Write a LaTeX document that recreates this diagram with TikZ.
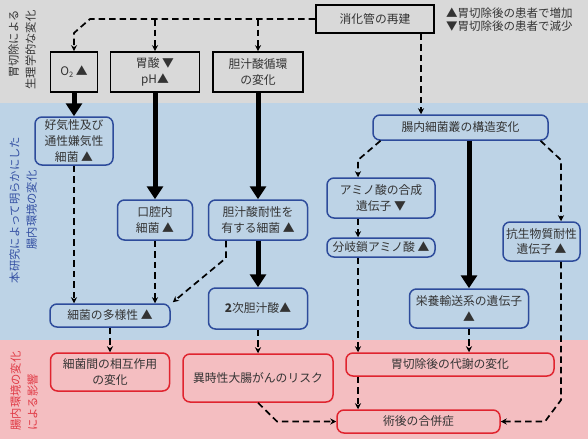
\documentclass[tikz,border=0pt]{standalone}
\usepackage{fontspec}
\setmainfont{Noto Sans CJK JP}
\usetikzlibrary{arrows.meta}
\definecolor{graybg}{HTML}{D9D9D9}
\definecolor{bluebg}{HTML}{BDD3E6}
\definecolor{pinkbg}{HTML}{F4BEC1}
\definecolor{blueline}{HTML}{2D4B9B}
\definecolor{redline}{HTML}{E0242F}
\definecolor{txt}{HTML}{333333}
\definecolor{bluetxt}{HTML}{3450A3}
\definecolor{redtxt}{HTML}{E03A45}
\tikzset{
  every node/.style={font=\fontsize{11.8}{15.8}\selectfont, text=txt, align=center, inner sep=0pt},
  graybox/.style={draw=black, line width=1.6pt, fill=graybg},
  bluebox/.style={draw=blueline, line width=1.5pt, rounded corners=7pt, fill=bluebg},
  redbox/.style={draw=redline, line width=1.5pt, rounded corners=7pt, fill=pinkbg},
  dashconn/.style={line width=1.7pt, dash pattern=on 6.5pt off 4pt, -{Stealth[length=6pt,width=6pt]}},
  heavy/.style={line width=5pt, -{Triangle[length=13pt,width=16pt]}},
  sidelabel/.style={rotate=90, font=\fontsize{11.3}{17}\selectfont},
}
\begin{document}
\begin{tikzpicture}[x=1pt,y=-1pt]
\useasboundingbox (0,0) rectangle (588,439);
% bands
\fill[graybg] (0,0) rectangle (588,103);
\fill[bluebg] (0,103) rectangle (588,340);
\fill[pinkbg] (0,340) rectangle (588,439);
% side labels
\node[sidelabel, align=right, text=txt] (lab1) at (22,50) {胃切除による\\生理学的な変化};
\node[sidelabel, align=center, text=bluetxt] (lab2) at (23,210) {本研究によって明らかにした\\腸内環境の変化};
\node[sidelabel, align=left, text=redtxt] (lab3) at (24,391) {腸内環境の変化\\による影響};
% legend
\node[anchor=west, font=\fontsize{11.5}{14}\selectfont] (leg1) at (446,12.7) {▲胃切除後の患者で増加};
\node[anchor=west, font=\fontsize{11.5}{14}\selectfont] (leg2) at (446,26.5) {▼胃切除後の患者で減少};
% gray nodes
\node[graybox, minimum width=118pt, minimum height=28pt] (rebuild) at (375,19) {消化管の再建};
\node[graybox, minimum width=47pt, minimum height=40pt] (o2) at (74,72) {O{\raisebox{-0.35ex}{\fontsize{7.5}{8}\selectfont 2}} ▲};
\node[graybox, minimum width=89pt, minimum height=40pt] (stomach) at (155,72) {胃酸 ▼\\pH▲};
\node[graybox, minimum width=90pt, minimum height=40pt] (bile) at (258,72) {胆汁酸循環\\の変化};
% blue nodes
\node[bluebox, minimum width=78pt, minimum height=48pt] (aerobic) at (74,141) {好気性及び\\通性嫌気性\\細菌 ▲};
\node[bluebox, minimum width=75pt, minimum height=40pt] (oral) at (155,220) {口腔内\\細菌 ▲};
\node[bluebox, minimum width=99pt, minimum height=40pt] (bileres) at (258,220) {胆汁酸耐性を\\有する細菌 ▲};
\node[bluebox, minimum width=120pt, minimum height=23pt] (diversity) at (110,315.5) {細菌の多様性 ▲};
\node[bluebox, minimum width=99pt, minimum height=41pt] (secbile) at (258,308.5) {\textbf{2}次胆汁酸▲};
\node[bluebox, minimum width=175pt, minimum height=25pt] (micro) at (460.5,127.5) {腸内細菌叢の構造変化};
\node[bluebox, minimum width=108pt, minimum height=40pt] (amino) at (381,198) {アミノ酸の合成\\遺伝子 ▼};
\node[bluebox, minimum width=108pt, minimum height=19pt] (bcaa) at (381,247.5) {分岐鎖アミノ酸 ▲};
\node[bluebox, minimum width=77pt, minimum height=39pt] (abx) at (541.5,241.5) {抗生物質耐性\\遺伝子 ▲};
\node[bluebox, minimum width=119pt, minimum height=39pt] (transport) at (469,308.5) {栄養輸送系の遺伝子\\▲};
% red nodes
\node[redbox, minimum width=119pt, minimum height=38pt] (interact) at (110,372) {細菌間の相互作用\\の変化};
\node[redbox, minimum width=150pt, minimum height=48pt] (risk) at (258,378) {異時性大腸がんのリスク};
\node[redbox, minimum width=208pt, minimum height=23pt] (metab) at (450,364.5) {胃切除後の代謝の変化};
\node[redbox, minimum width=163pt, minimum height=23pt] (compl) at (418.5,421.5) {術後の合併症};
% waypoints
\coordinate (t1) at (90,19);
\coordinate (t2) at (74,33);
\coordinate (b1) at (226,258);
\coordinate (m1) at (358,160);
\coordinate (m2) at (561,160);
\coordinate (a1) at (561,400);
\coordinate (a2) at (545,421.5);
\coordinate (r1) at (277,421.5);
% top dashed
\draw[dashconn] (rebuild.west) -- (t1) -- (t2) -- (o2.north);
\draw[dashconn] (stomach.north |- rebuild.west) -- (stomach.north);
\draw[dashconn] (bile.north |- rebuild.west) -- (bile.north);
\draw[dashconn] ([xshift=46pt]rebuild.south) -- ([xshift=46pt]rebuild.south |- micro.north);
% heavy arrows
\draw[heavy] (o2.south) -- (aerobic.north);
\draw[heavy] (stomach.south) -- (oral.north);
\draw[heavy] (bile.south) -- (bileres.north);
\draw[heavy] (bileres.south) -- (secbile.north);
\draw[heavy] (micro.south -| transport.north) -- (transport.north);
% blue dashed
\draw[dashconn] (aerobic.south) -- (diversity.north -| aerobic.south);
\draw[dashconn] (oral.south) -- (diversity.north -| oral.south);
\draw[dashconn] (bileres.south -| b1) -- (b1) -- ([xshift=2pt,yshift=1pt]diversity.north east);
\draw[dashconn] ([xshift=-80pt]micro.south) -- (m1) -- (amino.north -| m1);
\draw[dashconn] ([xshift=80pt]micro.south) -- (m2) -- (abx.north -| m2);
\draw[dashconn] (amino.south -| m1) -- (bcaa.north -| m1);
\draw[dashconn] (bcaa.south -| m1) -- (metab.north -| m1);
\draw[dashconn] (metab.south -| m1) -- (compl.north -| m1);
\draw[dashconn] (transport.south) -- (transport.south |- metab.north);
\draw[dashconn] (abx.south -| m2) -- (a1) -- (a2) -- (compl.east);
\draw[dashconn] (diversity.south) -- (interact.north);
\draw[dashconn] (secbile.south) -- (risk.north);
\draw[dashconn] (risk.south) -- (r1) -- (compl.west);
\end{tikzpicture}
\end{document}
